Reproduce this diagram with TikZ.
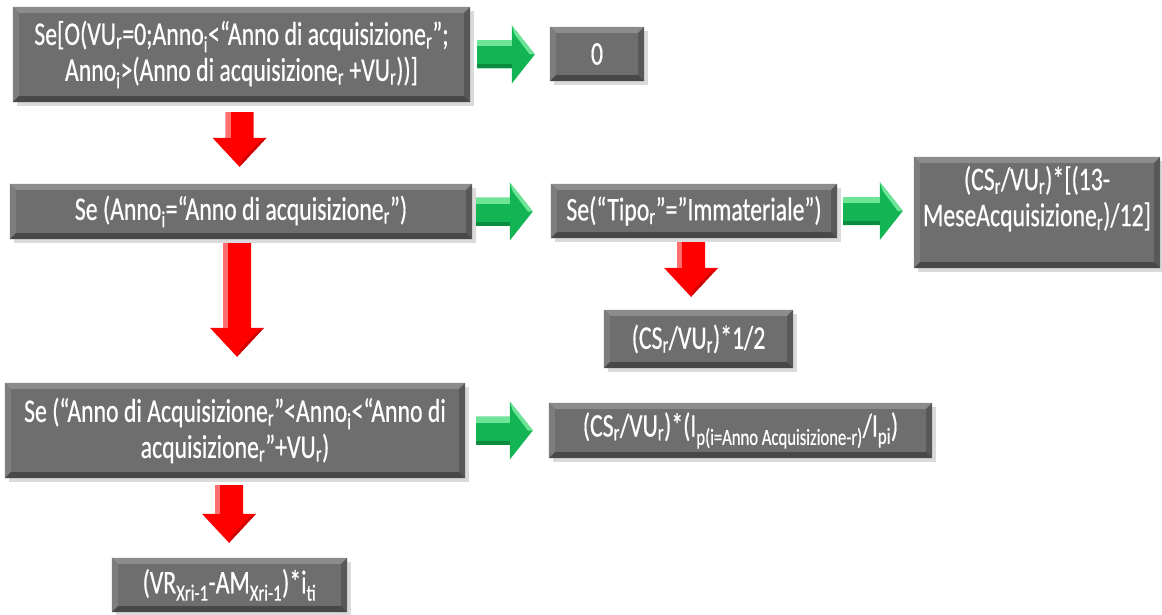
\documentclass[tikz,border=0pt]{standalone}
\usepackage{fontspec}
\setmainfont{Carlito}[FakeStretch=0.72,FakeBold=0.5]
\usetikzlibrary{calc,shadows}
\definecolor{boxface}{RGB}{110,110,110}
\definecolor{bvtop}{RGB}{140,140,140}
\definecolor{bvleft}{RGB}{125,125,125}
\definecolor{bvright}{RGB}{88,88,88}
\definecolor{bvbot}{RGB}{72,72,72}
\definecolor{grn}{RGB}{18,180,84}
\definecolor{grnlt}{RGB}{110,228,150}
\definecolor{grndk}{RGB}{10,140,62}
\definecolor{rd}{RGB}{255,0,0}
\definecolor{rdlt}{RGB}{255,110,110}
\definecolor{rddk}{RGB}{205,0,0}
\newcommand\sbs[1]{\textsubscript{#1}}
\def\bw{6pt}
\newcommand\bevel[1]{%
 \fill[bvtop] (#1.north west) -- (#1.north east) -- ([shift={(-\bw,-\bw)}]#1.north east) -- ([shift={(\bw,-\bw)}]#1.north west) -- cycle;
 \fill[bvleft] (#1.north west) -- ([shift={(\bw,-\bw)}]#1.north west) -- ([shift={(\bw,\bw)}]#1.south west) -- (#1.south west) -- cycle;
 \fill[bvright] (#1.north east) -- ([shift={(-\bw,-\bw)}]#1.north east) -- ([shift={(-\bw,\bw)}]#1.south east) -- (#1.south east) -- cycle;
 \fill[bvbot] (#1.south west) -- ([shift={(\bw,\bw)}]#1.south west) -- ([shift={(-\bw,\bw)}]#1.south east) -- (#1.south east) -- cycle;
}
% horizontal green block arrow from #1 to #2
\newcommand\garrow[2]{%
 \fill[grn] let \p1=#1, \p2=#2 in (\x1,{\y1+14pt}) -- ({\x2-23pt},{\y1+14pt}) -- ({\x2-23pt},{\y1+29pt}) -- (\x2,\y1) -- ({\x2-23pt},{\y1-29pt}) -- ({\x2-23pt},{\y1-14pt}) -- (\x1,{\y1-14pt}) -- cycle;
 \fill[grnlt] let \p1=#1, \p2=#2 in (\x1,{\y1+14pt}) -- ({\x2-23pt},{\y1+14pt}) -- ({\x2-23pt},{\y1+8pt}) -- (\x1,{\y1+8pt}) -- cycle;
 \fill[grnlt] let \p1=#1, \p2=#2 in ({\x2-23pt},{\y1+29pt}) -- (\x2,\y1) -- ({\x2-5pt},\y1) -- ({\x2-20pt},{\y1+20pt}) -- cycle;
 \fill[grndk] let \p1=#1, \p2=#2 in (\x1,{\y1-14pt}) -- ({\x2-23pt},{\y1-14pt}) -- ({\x2-23pt},{\y1-10pt}) -- (\x1,{\y1-10pt}) -- cycle;
}
% vertical red block arrow from #1 down to #2
\newcommand\rarrow[2]{%
 \fill[rd] let \p1=#1, \p2=#2 in ({\x1-14pt},\y1) -- ({\x1+14pt},\y1) -- ({\x1+14pt},{\y2+29pt}) -- ({\x1+27pt},{\y2+29pt}) -- (\x1,\y2) -- ({\x1-27pt},{\y2+29pt}) -- ({\x1-14pt},{\y2+29pt}) -- cycle;
 \fill[rdlt] let \p1=#1, \p2=#2 in ({\x1-14pt},\y1) -- ({\x1-9pt},\y1) -- ({\x1-9pt},{\y2+29pt}) -- ({\x1-14pt},{\y2+29pt}) -- cycle;
 \fill[rddk] let \p1=#1, \p2=#2 in ({\x1+27pt},{\y2+29pt}) -- (\x1,\y2) -- ({\x1+3pt},{\y2+7pt}) -- ({\x1+20pt},{\y2+25pt}) -- cycle;
}
\tikzset{
 flowbox/.style={fill=boxface, draw=none, inner sep=0pt, text=white, align=center,
   drop shadow={shadow xshift=4pt, shadow yshift=-4pt, fill=black!18, opacity=0.8}},
 flowtext/.style={inner sep=0pt, text=white, align=center, font=\fontsize{33}{36}\selectfont},
}
\begin{document}
\begin{tikzpicture}[x=1pt,y=-1pt]
\useasboundingbox[fill=white] (0,0) rectangle (1162,615);
\node[flowbox, minimum width=457pt, minimum height=95pt] (b1) at (241.5,54.5) {};
\node[flowbox, minimum width=94pt, minimum height=54pt] (b0) at (597,54) {};
\node[flowbox, minimum width=462pt, minimum height=55pt] (b2) at (241,211.5) {};
\node[flowbox, minimum width=286pt, minimum height=54pt] (bt) at (694,211) {};
\node[flowbox, minimum width=246pt, minimum height=111pt] (br) at (1037,212.5) {};
\node[flowbox, minimum width=189pt, minimum height=58pt] (bh) at (698.5,339) {};
\node[flowbox, minimum width=460pt, minimum height=95pt] (b3) at (235,430.5) {};
\node[flowbox, minimum width=383pt, minimum height=55pt] (bi) at (740.5,430.5) {};
\node[flowbox, minimum width=235pt, minimum height=54pt] (b4) at (229.5,585) {};
\foreach \n in {b1,b0,b2,bt,br,bh,b3,bi,b4}{\bevel{\n}}
\node[flowtext] (t1) at (b1) {Se[O(VU\sbs{r}=0;Anno\sbs{i}<“Anno di acquisizione\sbs{r}”;\\Anno\sbs{i}>(Anno di acquisizione\sbs{r} +VU\sbs{r}))]};
\node[flowtext] (t0) at (b0) {0};
\node[flowtext] (t2) at (b2) {Se (Anno\sbs{i}=“Anno di acquisizione\sbs{r}”)};
\node[flowtext] (tt) at (bt) {Se(“Tipo\sbs{r}”=”Immateriale”)};
\node[flowtext, anchor=north] (tr) at ([yshift=-9pt]br.north) {(CS\sbs{r}/VU\sbs{r})*[(13-\\MeseAcquisizione\sbs{r})/12]};
\node[flowtext] (th) at (bh) {(CS\sbs{r}/VU\sbs{r})*1/2};
\node[flowtext] (t3) at (b3) {Se (“Anno di Acquisizione\sbs{r}”<Anno\sbs{i}<“Anno di\\acquisizione\sbs{r}”+VU\sbs{r})};
\node[flowtext] (ti) at (bi) {(CS\sbs{r}/VU\sbs{r})*(I\sbs{p(i=Anno Acquisizione-r)}/I\sbs{pi})};
\node[flowtext] (t4) at (b4) {(VR\sbs{Xri-1}-AM\sbs{Xri-1})*i\sbs{ti}};
\garrow{([xshift=7pt]b1.east)}{([xshift=-15pt]b0.west)}
\garrow{([xshift=4pt]b2.east)}{([xshift=-18pt]bt.west)}
\garrow{([xshift=6pt]bt.east)}{([xshift=-11pt]br.west)}
\garrow{([xshift=11pt]b3.east)}{([xshift=-16pt]bi.west)}
\rarrow{([xshift=-2pt,yshift=-10pt]b1.south)}{([yshift=17pt]b2.north)}
\rarrow{([xshift=-4pt,yshift=-4pt]b2.south)}{([yshift=26pt]b3.north)}
\rarrow{([xshift=-3pt,yshift=-4pt]bt.south)}{([yshift=13pt]bh.north)}
\rarrow{([xshift=-6pt,yshift=-7pt]b3.south)}{([yshift=15pt]b4.north)}
\end{tikzpicture}
\end{document}
